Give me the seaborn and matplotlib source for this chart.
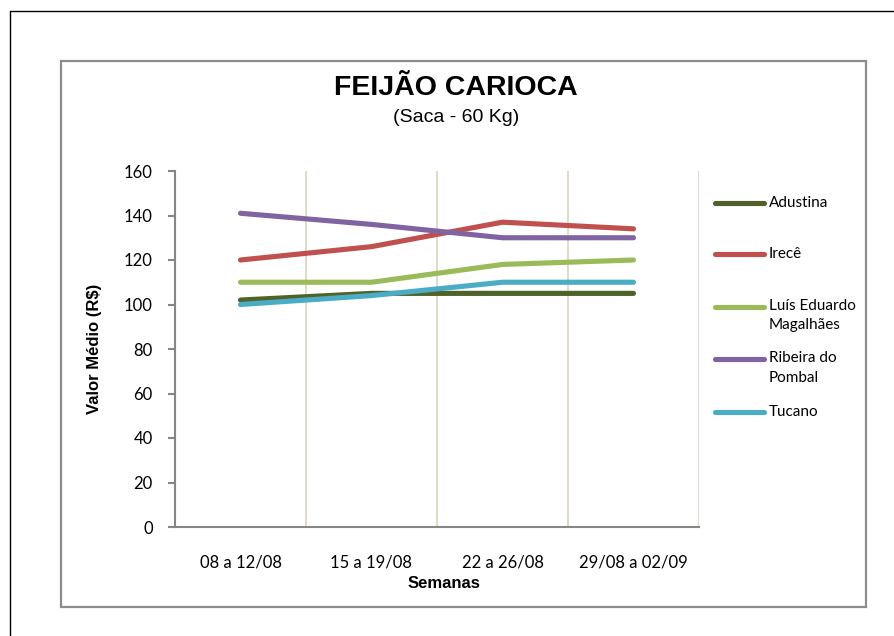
import matplotlib
matplotlib.use("Agg")
import matplotlib.pyplot as plt
from matplotlib.lines import Line2D
from matplotlib.patches import Rectangle
import seaborn as sns
import pandas as pd
import numpy as np

weeks = ["08 a 12/08", "15 a 19/08", "22 a 26/08", "29/08 a 02/09"]
adustina = [102, 105, 105, 105]
irece = [120, 126, 137, 134]
luis_eduardo = [110, 110, 118, 120]
ribeira = [141, 136, 130, 130]
tucano = [100, 104, 110, 110]

series_names = ["Adustina", "Irecê", "Luís Eduardo\nMagalhães", "Ribeira do\nPombal", "Tucano"]
series_values = [adustina, irece, luis_eduardo, ribeira, tucano]
colors = ["#4f6228", "#c0504d", "#9bbb59", "#8064a2", "#4bacc6"]

rows = []
for name, vals in zip(series_names, series_values):
    for i, v in enumerate(vals):
        rows.append({"serie": name, "x": i, "valor": v})
df = pd.DataFrame(rows)

sns.set_style("white")
plt.rcParams["font.family"] = ["Lato", "DejaVu Sans"]
plt.rcParams["text.color"] = "black"
plt.rcParams["xtick.color"] = "black"
plt.rcParams["ytick.color"] = "black"

W, H = 894, 636
fig = plt.figure(figsize=(W / 100, H / 100), dpi=100)
ax = fig.add_axes([175 / W, 1 - 527 / H, 524 / W, 356 / H])

sns.lineplot(data=df, x="x", y="valor", hue="serie", hue_order=series_names,
             palette=colors, linewidth=3.7, legend=False, ax=ax,
             solid_capstyle="round", solid_joinstyle="round")

ax.set_xlim(-0.5, len(weeks) - 0.5)
ax.set_ylim(0, 160)
ax.set_yticks(np.arange(0, 161, 20))
ax.set_xticks(range(len(weeks)))
ax.set_xticklabels(weeks)
ax.set_xticks(np.arange(-0.5, len(weeks), 1.0), minor=True)
ax.tick_params(axis="x", which="major", length=0, pad=20, labelsize=12, labelcolor="black")
ax.tick_params(axis="x", which="minor", length=5, width=1.5, color="#868686", direction="out")
ax.tick_params(axis="y", which="major", length=5, width=1.5, color="#868686", pad=11,
               labelsize=12, labelcolor="black", direction="out", left=True)
for gx in np.arange(0.5, len(weeks), 1.0):
    ax.axvline(gx, color="#dcd8c2", linewidth=1.3, zorder=0)
ax.set_xlabel("")
ax.set_ylabel("")
for s in ["top", "right"]:
    ax.spines[s].set_visible(False)
for s in ["left", "bottom"]:
    ax.spines[s].set_color("#868686")
    ax.spines[s].set_linewidth(1.5)

# Titles and axis labels
fig.text(456 / W, 1 - 88 / H, "FEIJÃO CARIOCA", ha="center", va="center",
         fontsize=20.5, fontweight="heavy", family=["Liberation Sans", "DejaVu Sans"])
fig.text(456 / W, 1 - 118 / H, "(Saca - 60 Kg)", ha="center", va="center",
         fontsize=14, family=["Liberation Sans", "DejaVu Sans"])
fig.text(444 / W, 1 - 584 / H, "Semanas", ha="center", va="center",
         fontsize=12, fontweight="bold", family=["Liberation Sans", "DejaVu Sans"])
fig.text(95 / W, 1 - 349 / H, "Valor Médio (R$)", ha="center", va="center", rotation=90,
         fontsize=12, fontweight="bold", family=["Liberation Sans", "DejaVu Sans"])

# Legend
leg_y = [203, 254, 307, 359, 412]
for name, col, y in zip(series_names, colors, leg_y):
    fig.add_artist(Line2D([715 / W, 764 / W], [1 - y / H, 1 - y / H], color=col,
                          linewidth=3.7, solid_capstyle="round", transform=fig.transFigure))
    if "\n" in name:
        fig.text(769 / W, 1 - (y - 8) / H, name, ha="left", va="top", fontsize=11,
                 linespacing=1.5)
    else:
        fig.text(769 / W, 1 - y / H, name, ha="left", va="center", fontsize=11)

# Chart frame and page border
fig.add_artist(Rectangle((61 / W, 1 - 607 / H), (866 - 61) / W, (607 - 61) / H,
                         fill=False, edgecolor="#8c8c8c", linewidth=1.6,
                         transform=fig.transFigure))
fig.add_artist(Line2D([10 / W, 1], [1 - 11 / H, 1 - 11 / H], color="black", linewidth=1,
                      transform=fig.transFigure))
fig.add_artist(Line2D([10 / W, 10 / W], [0, 1 - 11 / H], color="black", linewidth=1,
                      transform=fig.transFigure))

fig.savefig("out.png", dpi=100)
